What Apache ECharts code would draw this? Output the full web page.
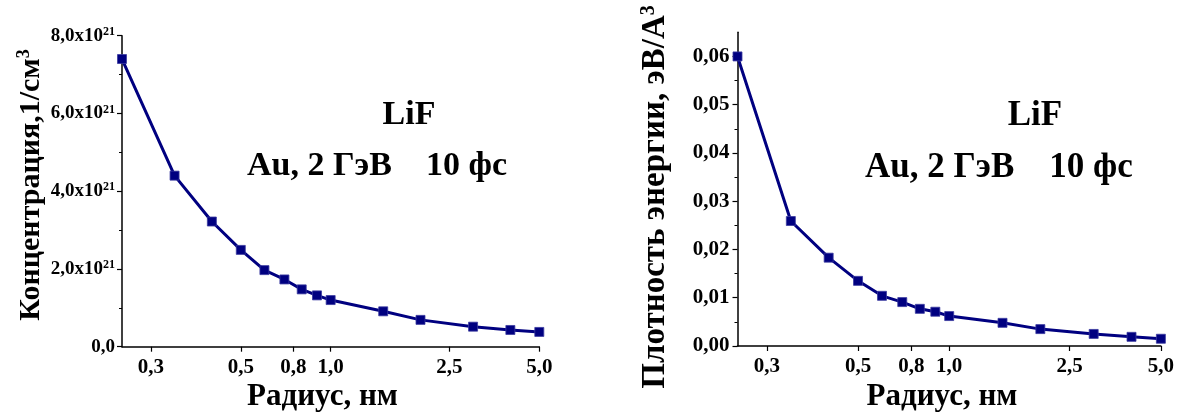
<!DOCTYPE html>
<html>
<head>
<meta charset="utf-8">
<script src="https://cdn.jsdelivr.net/npm/echarts@6/dist/echarts.min.js"></script>
<style>
html,body{margin:0;padding:0;background:#fff;}
#chart{width:1177px;height:412px;}
</style>
</head>
<body>
<div id="chart"></div>
<script>
// ---- data ----
const radius = [0.2, 0.3, 0.4, 0.5, 0.6, 0.7, 0.8, 0.9, 1.0, 1.5, 2.0, 3.0, 4.0, 5.0];
const concentration = [7.4e21, 4.4e21, 3.22e21, 2.49e21, 1.97e21, 1.73e21, 1.475e21, 1.32e21, 1.20e21, 0.91e21, 0.69e21, 0.515e21, 0.43e21, 0.38e21];
const energyDensity = [0.0600, 0.0259, 0.0183, 0.0135, 0.0104, 0.0091, 0.0077, 0.0071, 0.0062, 0.0048, 0.0035, 0.0025, 0.0019, 0.0015];
const xTickValues = [0.25, 0.5, 0.75, 1.0, 2.5, 5.0];
const xTickLabels = ['0,3', '0,5', '0,8', '1,0', '2,5', '5,0'];
const energyTickValues = [0, 0.01, 0.02, 0.03, 0.04, 0.05, 0.06];
const energyTickLabels = ['0,00', '0,01', '0,02', '0,03', '0,04', '0,05', '0,06'];

const FONT = '"Liberation Serif", "Times New Roman", serif';
const NAVY = '#000080';

function nearestLabel(v, values, labels, useLog) {
  let best = 0, bd = Infinity;
  for (let i = 0; i < values.length; i++) {
    const d = useLog ? Math.abs(Math.log(v) - Math.log(values[i])) : Math.abs(v - values[i]);
    if (d < bd) { bd = d; best = i; }
  }
  return labels[best];
}

function xAxisCfg(gridIndex, fs) {
  return {
    type: 'log', logBase: 10, gridIndex: gridIndex, min: 0.2, max: 5,
    axisLine: { show: true, lineStyle: { color: '#000', width: 1.5 } },
    axisTick: { show: true, length: 5, lineStyle: { color: '#000', width: 1.2 }, customValues: xTickValues },
    minorTick: { show: false },
    splitLine: { show: false },
    axisLabel: {
      customValues: xTickValues,
      formatter: function (v) { return nearestLabel(v, xTickValues, xTickLabels, true); },
      margin: 10,
      fontFamily: FONT, fontWeight: 'bold', fontSize: fs, color: '#000'
    }
  };
}

const chart = echarts.init(document.getElementById('chart'), null, { renderer: 'canvas' });

const option = {
  animation: false,
  backgroundColor: '#fff',
  grid: [
    { left: 122, top: 35.7, width: 417.3, height: 311 },
    { left: 737.5, top: 32.3, width: 423.5, height: 313.7 }
  ],
  xAxis: [xAxisCfg(0, 21), xAxisCfg(1, 21)],
  yAxis: [
    {
      type: 'value', gridIndex: 0, min: 0, max: 8e21, interval: 2e21,
      axisLine: { show: true, lineStyle: { color: '#000', width: 1.5 } },
      axisTick: { show: true, length: 5, lineStyle: { color: '#000', width: 1.2 } },
      minorTick: { show: true, splitNumber: 2, length: 3, lineStyle: { color: '#000', width: 1 } },
      splitLine: { show: false },
      axisLabel: {
        margin: 7,
        formatter: function (v) {
          if (v === 0) return '{n|0,0}';
          return '{n|' + (v / 1e21).toFixed(1).replace('.', ',') + 'x10}{s|21}';
        },
        rich: {
          n: { fontFamily: FONT, fontWeight: 'bold', fontSize: 19, color: '#000', lineHeight: 20 },
          s: { fontFamily: FONT, fontWeight: 'bold', fontSize: 12, color: '#000', verticalAlign: 'top', lineHeight: 10 }
        }
      }
    },
    {
      type: 'value', gridIndex: 1, min: 0, max: 0.065, interval: 0.01,
      axisLine: { show: true, lineStyle: { color: '#000', width: 1.5 } },
      axisTick: { show: true, length: 5, lineStyle: { color: '#000', width: 1.2 }, customValues: energyTickValues },
      minorTick: { show: true, splitNumber: 2, length: 3, lineStyle: { color: '#000', width: 1 } },
      splitLine: { show: false },
      axisLabel: {
        margin: 8,
        customValues: energyTickValues,
        formatter: function (v) { return nearestLabel(v, energyTickValues, energyTickLabels, false); },
        fontFamily: FONT, fontWeight: 'bold', fontSize: 21, color: '#000'
      }
    }
  ],
  series: [
    {
      type: 'line', xAxisIndex: 0, yAxisIndex: 0,
      data: radius.map((r, i) => [r, concentration[i]]),
      symbol: 'rect', symbolSize: 9,
      lineStyle: { color: NAVY, width: 3 },
      itemStyle: { color: NAVY, borderColor: '#3a3aa0', borderWidth: 0.8 }
    },
    {
      type: 'line', xAxisIndex: 1, yAxisIndex: 1,
      data: radius.map((r, i) => [r, energyDensity[i]]),
      symbol: 'rect', symbolSize: 9,
      lineStyle: { color: NAVY, width: 3 },
      itemStyle: { color: NAVY, borderColor: '#3a3aa0', borderWidth: 0.8 }
    }
  ],
  graphic: [
    {
      type: 'text', x: 31, y: 185, rotation: Math.PI / 2,
      style: {
        text: '{a|Концентрация,1/см}{s|3}', textAlign: 'center', textVerticalAlign: 'middle',
        rich: {
          a: { font: 'bold 30px ' + FONT, fill: '#000', lineHeight: 32 },
          s: { font: 'bold 18px ' + FONT, fill: '#000', verticalAlign: 'top', lineHeight: 18 }
        }
      }
    },
    {
      type: 'text', x: 655.5, y: 197, rotation: Math.PI / 2,
      style: {
        text: '{a|Плотность энергии, эВ/А}{s|3}', textAlign: 'center', textVerticalAlign: 'middle',
        rich: {
          a: { font: 'bold 33px ' + FONT, fill: '#000', lineHeight: 34 },
          s: { font: 'bold 20px ' + FONT, fill: '#000', verticalAlign: 'top', lineHeight: 20 }
        }
      }
    },
    {
      type: 'text', x: 322.5, y: 397,
      style: { text: 'Радиус, нм', font: 'bold 31px ' + FONT, fill: '#000', textAlign: 'center', textVerticalAlign: 'middle' }
    },
    {
      type: 'text', x: 942, y: 397,
      style: { text: 'Радиус, нм', font: 'bold 31px ' + FONT, fill: '#000', textAlign: 'center', textVerticalAlign: 'middle' }
    },
    {
      type: 'text', x: 409, y: 115,
      style: { text: 'LiF', font: 'bold 34px ' + FONT, fill: '#000', textAlign: 'center', textVerticalAlign: 'middle' }
    },
    {
      type: 'text', x: 247, y: 166,
      style: { text: 'Au, 2 ГэВ    10 фс', font: 'bold 34px ' + FONT, fill: '#000', textAlign: 'left', textVerticalAlign: 'middle' }
    },
    {
      type: 'text', x: 1035, y: 116,
      style: { text: 'LiF', font: 'bold 35px ' + FONT, fill: '#000', textAlign: 'center', textVerticalAlign: 'middle' }
    },
    {
      type: 'text', x: 865, y: 168,
      style: { text: 'Au, 2 ГэВ    10 фс', font: 'bold 35px ' + FONT, fill: '#000', textAlign: 'left', textVerticalAlign: 'middle' }
    }
  ]
};
chart.setOption(option);
</script>
</body>
</html>
